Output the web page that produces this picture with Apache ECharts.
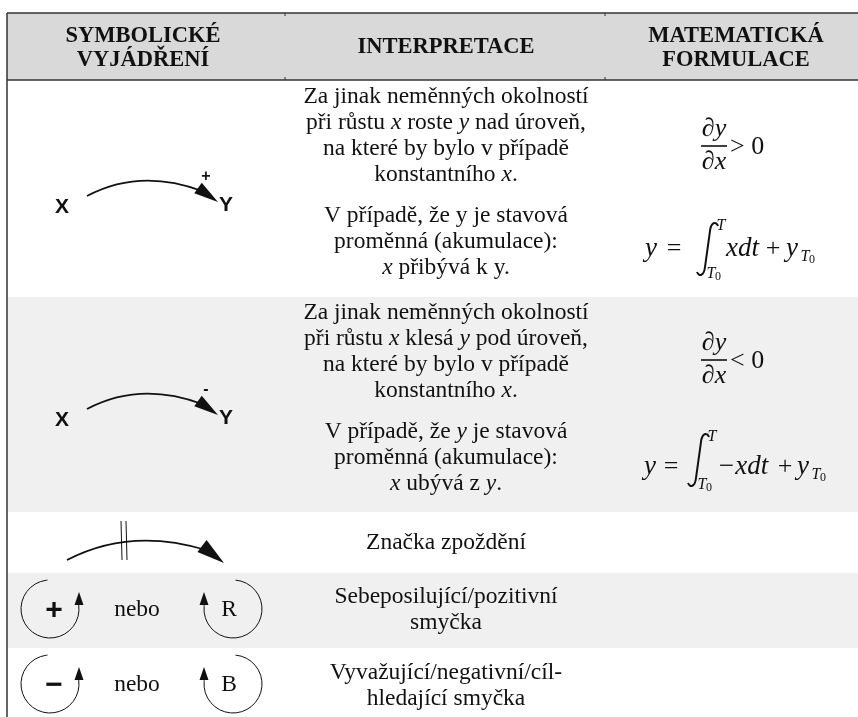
<!DOCTYPE html>
<html>
<head>
<meta charset="utf-8">
<script src="https://cdn.jsdelivr.net/npm/echarts@6/dist/echarts.min.js"></script>
<style>
  html, body { margin: 0; padding: 0; background: #fff; }
  #chart { width: 858px; height: 717px; }
</style>
</head>
<body>
<div id="chart"></div>
<script>
// table content
var headerLines = [['SYMBOLICKÉ', 'VYJÁDŘENÍ'], ['INTERPRETACE'], ['MATEMATICKÁ', 'FORMULACE']];
var rowKeys = ['header', 'increase', 'decrease', 'delay', 'reinforcing', 'balancing'];
var interpBlocks = [
    [['Za jinak neměnných okolností', 'při růstu {i|x} roste {i|y} nad úroveň,', 'na které by bylo v případě', 'konstantního {i|x}.'],
     ['V případě, že y je stavová', 'proměnná (akumulace):', '{i|x} přibývá k y.']],
    [['Za jinak neměnných okolností', 'při růstu {i|x} klesá {i|y} pod úroveň,', 'na které by bylo v případě', 'konstantního {i|x}.'],
     ['V případě, že {i|y} je stavová', 'proměnná (akumulace):', '{i|x} ubývá z {i|y}.']],
    [['Značka zpoždění']],
    [['Sebeposilující/pozitivní', 'smyčka']],
    [['Vyvažující/negativní/cíl-', 'hledající smyčka']]
];
var linkNodes = ['X', 'Y'];
var linkSigns = ['+', '-'];
var loopSigns = ['+', '−'];
var loopLetters = ['R', 'B'];
var loopJoiner = 'nebo';
var relations = ['> 0', '< 0'];
var integrands = ['xdt', '−xdt'];

// layout
var W = 858, H = 717;
var TABLE_LEFT = 7, HEAD_TOP = 13, HEAD_BOTTOM = 80;
var ROW_BOUNDS = [80, 296, 512, 572, 648, 717];
var ROW_FILL = ['#ffffff', '#f0f0f0', '#ffffff', '#f0f0f0', '#ffffff'];
var COL_CENTER = [143, 446, 736];
var HEAD_Y = [[36, 60], [47], [36, 60]];
var INTERP_TOP = [[97, 216], [313, 432], [543], [597], [673]];
var LINE_H = 26;
var LINK_DY = [0, 213];
var FRAC_DY = [0, 214];
var INTEGRAL = [
    { cy: 249, yX: 651, eqX: 674, intX: 697, top: 222, plusX: 773, y2X: 792 },
    { cy: 467, yX: 650, eqX: 671, intX: 688, top: 433, plusX: 785, y2X: 803 }
];
var LOOP_CY = [609, 684];

var SERIF = '"Liberation Serif", "Times New Roman", serif';
var SANS = '"Liberation Sans", Arial, sans-serif';
var INK = '#111';
var BODY_SIZE = 23.5;

var chart = echarts.init(document.getElementById('chart'));

function text(p, s, o) {
    return { type: 'text', style: Object.assign({
        text: s, x: p[0], y: p[1], align: 'center', verticalAlign: 'middle',
        fill: INK, fontFamily: SERIF, fontSize: 22
    }, o || {}) };
}

function arrowHead(api, tip, base, hw) {
    var t = api.coord(tip), b = api.coord(base);
    var dx = t[0] - b[0], dy = t[1] - b[1];
    var len = Math.sqrt(dx * dx + dy * dy);
    var nx = -dy / len * hw, ny = dx / len * hw;
    return { type: 'polygon', shape: { points: [t, [b[0] + nx, b[1] + ny], [b[0] - nx, b[1] - ny]] },
        style: { fill: INK } };
}

function curve(api, a, c, b, w) {
    var p0 = api.coord(a), p1 = api.coord(c), p2 = api.coord(b);
    return { type: 'bezierCurve', shape: { x1: p0[0], y1: p0[1], cpx1: p1[0], cpy1: p1[1], x2: p2[0], y2: p2[1] },
        style: { stroke: INK, lineWidth: w, fill: 'none' } };
}

function line(api, a, b, w, color) {
    var p0 = api.coord(a), p1 = api.coord(b);
    return { type: 'line', shape: { x1: p0[0], y1: p0[1], x2: p1[0], y2: p1[1] },
        style: { stroke: color || INK, lineWidth: w } };
}

function renderHeader(api) {
    var ch = [];
    var p0 = api.coord([TABLE_LEFT, HEAD_TOP]), p1 = api.coord([W, HEAD_BOTTOM]);
    ch.push({ type: 'rect', shape: { x: p0[0], y: p0[1], width: p1[0] - p0[0], height: p1[1] - p0[1] },
        style: { fill: '#d9d9d9' } });
    headerLines.forEach(function (lines, c) {
        lines.forEach(function (s, k) {
            ch.push(text(api.coord([COL_CENTER[c], HEAD_Y[c][k]]), s, { fontWeight: 'bold', fontSize: 22.5 }));
        });
    });
    ch.push(line(api, [TABLE_LEFT, HEAD_TOP], [W, HEAD_TOP], 1.5, '#333'));
    ch.push(line(api, [TABLE_LEFT, HEAD_BOTTOM], [W, HEAD_BOTTOM], 1.5, '#333'));
    [285, 605].forEach(function (x) {
        ch.push(line(api, [x, HEAD_TOP], [x, HEAD_TOP + 3], 1, '#333'));
        ch.push(line(api, [x, HEAD_BOTTOM - 3], [x, HEAD_BOTTOM], 1, '#333'));
    });
    ch.push(line(api, [TABLE_LEFT, HEAD_TOP], [TABLE_LEFT, H], 1.5, '#333'));
    return ch;
}

function renderLink(api, k) {
    var d = LINK_DY[k];
    var node = { fontFamily: SANS, fontWeight: 'bold', fontSize: 21 };
    return [
        text(api.coord([62, 207 + d]), linkNodes[0], node),
        text(api.coord([226, 205 + d]), linkNodes[1], node),
        curve(api, [87, 196 + d], [140, 168 + d], [202, 191 + d], 1.8),
        arrowHead(api, [218, 202 + d], [198, 188 + d], 6.5),
        text(api.coord([206, 177 + d]), linkSigns[k], { fontFamily: SANS, fontWeight: 'bold', fontSize: 16 })
    ];
}

function renderFraction(api, k) {
    var d = FRAC_DY[k];
    var b0 = api.coord([701, 146 + d]), b1 = api.coord([727, 146 + d]);
    var mi = { fontStyle: 'italic', fontSize: 26 };
    return [
        text(api.coord([714, 129 + d]), '∂y', mi),
        { type: 'rect', shape: { x: b0[0], y: b0[1] - 0.8, width: b1[0] - b0[0], height: 1.6 }, style: { fill: INK } },
        text(api.coord([714, 162 + d]), '∂x', mi),
        text(api.coord([730, 147 + d]), relations[k], { fontSize: 26, align: 'left' })
    ];
}

function renderIntegral(api, k) {
    var g = INTEGRAL[k];
    var mi = { fontStyle: 'italic', fontSize: 27 };
    var x0 = g.intX, t = g.top, h = 54;
    var P = function (x, y) { var p = api.coord([x, y]); return p[0].toFixed(1) + ' ' + p[1].toFixed(1); };
    var path = 'M' + P(x0 + 21, t + 4) + ' C' + P(x0 + 19, t - 1) + ' ' + P(x0 + 14, t) + ' ' + P(x0 + 13, t + 9) +
        ' L' + P(x0 + 8, t + h - 9) + ' C' + P(x0 + 7, t + h) + ' ' + P(x0 + 2, t + h + 1) + ' ' + P(x0, t + h - 4);
    return [
        text(api.coord([g.yX, g.cy]), 'y', mi),
        text(api.coord([g.eqX, g.cy]), '=', { fontSize: 26 }),
        { type: 'path', shape: { pathData: path }, style: { stroke: INK, lineWidth: 2, fill: 'none' } },
        text(api.coord([x0 + 24, t + 4]), 'T', { fontStyle: 'italic', fontSize: 16 }),
        text(api.coord([x0 + 14, t + h - 2]), 'T', { fontStyle: 'italic', fontSize: 16 }),
        text(api.coord([x0 + 21, t + h + 1]), '0', { fontSize: 12 }),
        text(api.coord([x0 + 29, g.cy]), integrands[k], { fontStyle: 'italic', fontSize: 27, align: 'left' }),
        text(api.coord([g.plusX, g.cy]), '+', { fontSize: 26 }),
        text(api.coord([g.y2X, g.cy]), 'y', mi),
        text(api.coord([g.y2X + 13, g.cy + 8]), 'T', { fontStyle: 'italic', fontSize: 16 }),
        text(api.coord([g.y2X + 20, g.cy + 11]), '0', { fontSize: 12 })
    ];
}

function renderDelay(api) {
    return [
        curve(api, [67, 560], [130, 527], [206, 550], 1.8),
        arrowHead(api, [224, 563], [202, 546], 7.5),
        line(api, [121, 521], [122, 560], 1),
        line(api, [126, 521], [127, 560], 1)
    ];
}

function renderLoops(api, k) {
    var cy = LOOP_CY[k];
    var c1 = api.coord([50, cy]), c2 = api.coord([233, cy]);
    var r = api.size([29, 0])[0];
    var deg = Math.PI / 180;
    return [
        { type: 'arc', shape: { cx: c1[0], cy: c1[1], r: r, startAngle: -8 * deg, endAngle: 265 * deg, clockwise: true },
            style: { stroke: INK, lineWidth: 1, fill: 'none' } },
        arrowHead(api, [79, cy - 17], [79, cy - 4], 4.5),
        text(api.coord([54, cy + 2]), loopSigns[k], { fontFamily: SANS, fontWeight: 'bold', fontSize: 30 }),
        text(api.coord([137, cy + 1]), loopJoiner, { fontSize: BODY_SIZE }),
        { type: 'arc', shape: { cx: c2[0], cy: c2[1], r: r, startAngle: -85 * deg, endAngle: 188 * deg, clockwise: true },
            style: { stroke: INK, lineWidth: 1, fill: 'none' } },
        arrowHead(api, [204, cy - 17], [204, cy - 4], 4.5),
        text(api.coord([229, cy + 1]), loopLetters[k], { fontSize: BODY_SIZE })
    ];
}

function renderRow(params, api) {
    var i = api.value(0);
    if (i === 0) return { type: 'group', children: renderHeader(api) };
    var r = i - 1;
    var ch = [];
    var p0 = api.coord([TABLE_LEFT + 1, ROW_BOUNDS[r]]), p1 = api.coord([W, ROW_BOUNDS[r + 1]]);
    ch.push({ type: 'rect', shape: { x: p0[0], y: p0[1] + 1, width: p1[0] - p0[0], height: p1[1] - p0[1] - 1 },
        style: { fill: ROW_FILL[r] } });
    interpBlocks[r].forEach(function (block, b) {
        block.forEach(function (s, k) {
            ch.push(text(api.coord([COL_CENTER[1], INTERP_TOP[r][b] + k * LINE_H]), s, {
                fontSize: BODY_SIZE,
                rich: { i: { fontStyle: 'italic', fontFamily: SERIF, fontSize: BODY_SIZE, fill: INK } }
            }));
        });
    });
    if (r < 2) {
        ch = ch.concat(renderLink(api, r), renderFraction(api, r), renderIntegral(api, r));
    } else if (r === 2) {
        ch = ch.concat(renderDelay(api));
    } else {
        ch = ch.concat(renderLoops(api, r - 3));
    }
    return { type: 'group', children: ch };
}

var option = {
    animation: false,
    backgroundColor: '#ffffff',
    grid: { left: 0, right: 0, top: 0, bottom: 0 },
    xAxis: { type: 'value', min: 0, max: W, show: false },
    yAxis: { type: 'value', min: 0, max: H, inverse: true, show: false },
    series: [{
        type: 'custom',
        name: 'table',
        renderItem: renderRow,
        data: rowKeys.map(function (k, i) { return [i, 0]; })
    }]
};
chart.setOption(option);
</script>
</body>
</html>
